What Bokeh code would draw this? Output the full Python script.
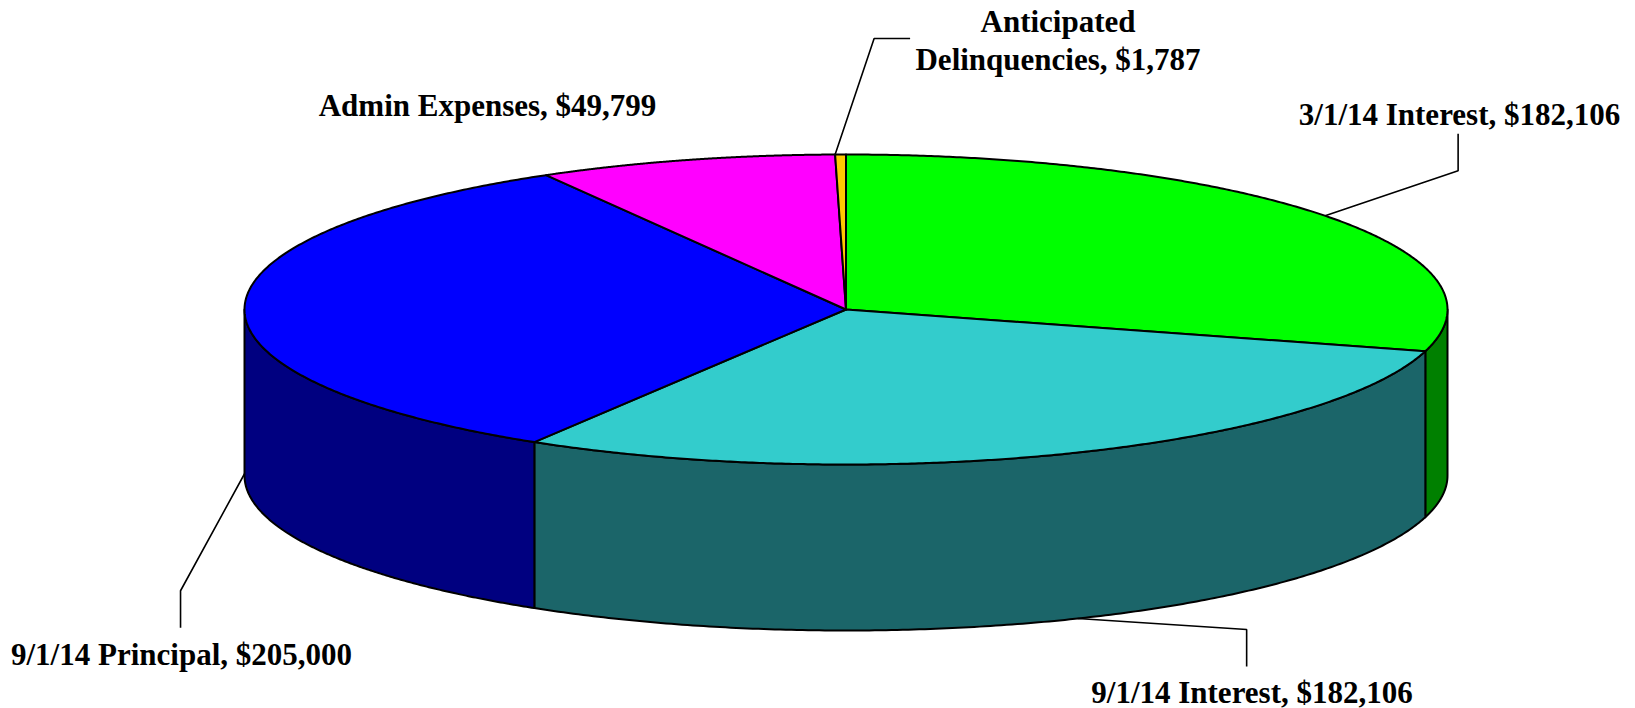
import numpy as np
from bokeh.core.properties import value
from bokeh.embed import file_html
from bokeh.plotting import figure
from bokeh.resources import INLINE

# ---- data ----
categories = ["3/1/14 Interest", "9/1/14 Interest", "9/1/14 Principal", "Admin Expenses", "Anticipated Delinquencies"]
amounts = [182106, 182106, 205000, 49799, 1787]
top_colors = ["#00FF00", "#33CCCC", "#0000FF", "#FF00FF", "#FFC800"]
wall_colors = ["#008000", "#1B6569", "#000080", "#800080", "#806400"]
label_lines = [["3/1/14 Interest, $182,106"], ["9/1/14 Interest, $182,106"], ["9/1/14 Principal, $205,000"],
               ["Admin Expenses, $49,799"], ["Anticipated", "Delinquencies, $1,787"]]

# ---- layout (page pixels) ----
CX, CY, RX, RY, DEPTH = 845.5, 309.0, 601.5, 155.0, 166.0
FONT_PX = 31
label_x = [1459, 1251.5, 181, 487, 1057.5]
label_y = [113.5, 691.5, 654, 104.5, 58.5]
LINE_H = 38
# leaders: where on the slice's arc they start (0..1), whether on the lower rim,
# then elbow and end as offsets from that start
leaders = {0: (0.5, False, (133, -45), (133, -82)),
           1: (0.49, True, (169, 11), (169, 48)),
           2: (0.5, True, (-64, 117), (-64, 154)),
           4: (0.0, False, (39, -116), (75, -116))}

p = figure(width=1635, height=708, x_range=(0, 1635), y_range=(708, 0),
           output_backend="svg", toolbar_location=None, min_border=0, outline_line_color=None,
           background_fill_color="white", border_fill_color="white")
p.axis.visible = False
p.grid.visible = False

vals = np.array(amounts, dtype=float)
edges = np.concatenate([[0.0], np.cumsum(vals) / vals.sum() * 2 * np.pi])


def rim(t, drop=0.0):
    return CX + RX * np.sin(t), CY - RY * np.cos(t) + drop


# walls: front half only, 90 to 270 degrees clockwise from 12 o'clock
for i in range(len(vals)):
    a, b = max(edges[i], np.pi / 2), min(edges[i + 1], 3 * np.pi / 2)
    if b <= a:
        continue
    t = np.linspace(a, b, 200)
    x1, y1 = rim(t)
    x2, y2 = rim(t[::-1], DEPTH)
    p.patch(np.r_[x1, x2], np.r_[y1, y2], fill_color=wall_colors[i], line_color="black", line_width=2,
            line_join="round")

# top face
for i in range(len(vals)):
    t = np.linspace(edges[i], edges[i + 1], 300)
    x, y = rim(t)
    p.patch(np.r_[CX, x], np.r_[CY, y], fill_color=top_colors[i], line_color="black", line_width=2,
            line_join="round")

# leaders
for i, (frac, lower, elbow, end) in leaders.items():
    t0 = edges[i] + frac * (edges[i + 1] - edges[i])
    ax, ay = rim(t0, DEPTH if lower else 0.0)
    p.line([ax, ax + elbow[0], ax + end[0]], [ay, ay + elbow[1], ay + end[1]], line_color="black", line_width=1.6)

# labels
for i, lines in enumerate(label_lines):
    n = len(lines)
    for k, s in enumerate(lines):
        p.text([label_x[i]], [label_y[i] - (n - 1 - k) * LINE_H], text=[s], text_align="center",
               text_baseline="alphabetic", text_font=value("Liberation Serif"), text_font_style="bold",
               text_font_size=f"{FONT_PX}px", text_color="black")

open("out.html", "w").write(file_html(p, INLINE))
